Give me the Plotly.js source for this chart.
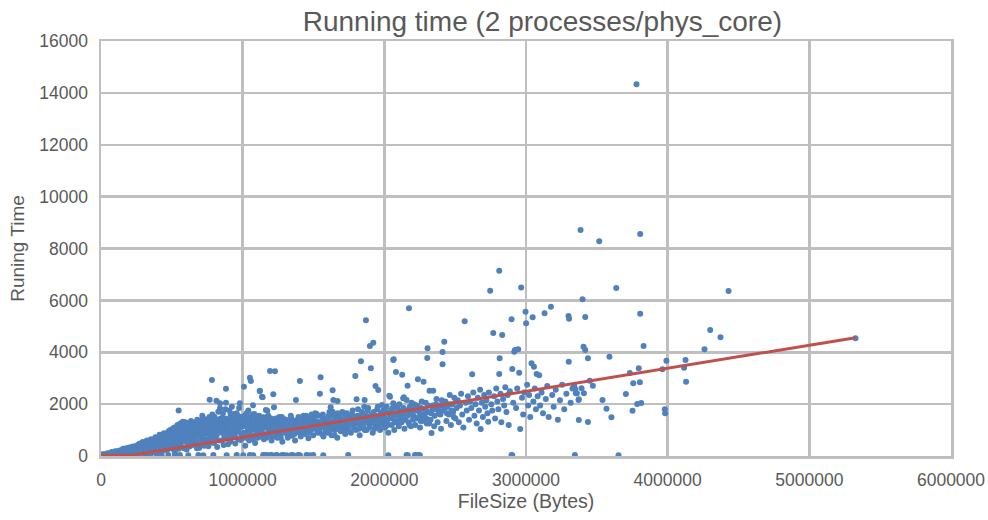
<!DOCTYPE html>
<html>
<head>
<meta charset="utf-8">
<script src="https://cdn.plot.ly/plotly-3.0.1.min.js"></script>
<style>
  html, body { margin: 0; padding: 0; background: #ffffff; }
  #chart { width: 988px; height: 520px; }
</style>
</head>
<body>
<div id="chart"></div>
<script>
// [file size in bytes, running time]
var nearOrigin = [
  [5000,10],[12000,20],[18000,15],[25000,30],[30000,25],[38000,40],[45000,35],[52000,60],[60000,45],[66000,80],
  [72000,55],[80000,70],[88000,100],[95000,60],[100000,120],[108000,90],[115000,150],[122000,75],[130000,180],[138000,110],
  [145000,200],[152000,140],[160000,230],[168000,120],[175000,260],[182000,170],[190000,300],[198000,210],[205000,150],[212000,330],
  [220000,250],[228000,190],[235000,360],[242000,280],[250000,140],[20000,60],[40000,90],[70000,120],[110000,40],[140000,60],
  [170000,80],[200000,90],[230000,100],[15000,0],[35000,5],[55000,10],[85000,20],[125000,30],
  [8000,40],[14000,5],[22000,45],[28000,10],[33000,55],[42000,15],[47000,70],[57000,30],[63000,95],[68000,20],
  [77000,110],[83000,45],[91000,130],[97000,25],[104000,160],[112000,65],[118000,180],[127000,110],[133000,215],[142000,35],
  [149000,240],[156000,90],[163000,260],[171000,180],[178000,300],[186000,60],[193000,240],[201000,330],[208000,120],[216000,290],
  [224000,370],[232000,60],[238000,220],[246000,390],[253000,300],[12000,70],[48000,110],[76000,150],[101000,180],[157000,280]
];

var bandLow = [
  [260000,420],[268000,200],[275000,330],[282000,480],[290000,260],[298000,390],[305000,150],[312000,520],[320000,300],[328000,440],
  [335000,210],[342000,580],[350000,360],[358000,250],[365000,620],[372000,470],[380000,300],[388000,700],[395000,420],[402000,180],
  [410000,560],[418000,760],[425000,350],[432000,640],[440000,230],[448000,820],[455000,500],[462000,300],[470000,900],[476000,650],
  [483000,420],[490000,1000],[497000,760],[504000,280],[510000,560],[518000,1100],[525000,880],[532000,350],[540000,1200],[546000,700],
  [548000,1750],[555000,460],[560000,1250],[566000,950],[572000,620],[578000,1320],[585000,300],[590000,1080],[596000,780],[602000,1280],
  [608000,520],[615000,1150],[622000,880],[628000,380],[635000,1350],[640000,680],[648000,1000],[655000,450],[662000,1220],[668000,820],
  [675000,560],[680000,1400],[688000,1050],[694000,320],[700000,1300],[706000,720],[712000,950],[715000,1550],[720000,1180],[726000,480],
  [732000,1420],[738000,860],[745000,620],[752000,1280],[758000,380],[765000,1500],[767000,2172],[770000,950],[777000,700],[783000,2930],
  [786000,1600],[790000,1150],[793000,1415],[798000,500],[805000,1350],[810000,1322],[815000,2133],[818000,820],[822000,1050],[828000,1708],
  [832000,600],[840000,2031],[840000,1839],[845000,1450],[848000,1200],[855000,900],[860000,1650],[866000,420],[872000,1300],[878000,1800],
  [882000,2595],[882000,2055],[888000,700],[894000,1415],[900000,1100],[906000,1750],[912000,550],[918000,1500],[924000,1900],[930000,880],
  [936000,1620],[942000,1250],[948000,480],[957000,1646],[962000,1350],[968000,1000],[975000,1850],[980000,2031],[986000,620],[992000,1480],
  [998000,1200]
];

var fillLow = [
  [257000,80],[263000,350],[271000,470],[279000,120],[286000,410],[294000,540],[301000,290],[309000,60],[316000,460],[324000,600],
  [331000,340],[338000,110],[346000,500],[353000,650],[361000,420],[368000,180],[376000,560],[384000,720],[391000,90],[399000,610],
  [406000,360],[414000,820],[421000,500],[429000,150],[436000,720],[444000,880],[451000,420],[458000,640],[466000,220],[473000,780],
  [479000,960],[487000,560],[493000,340],[500000,880],[507000,1050],[514000,690],[521000,150],[528000,980],[535000,520],[543000,1100],
  [551000,820],[268000,290],[297000,170],[333000,470],[362000,290],[397000,510],[427000,620],[456000,330],[487000,820],[519000,420],
  [537000,900],[283000,230],[318000,160],[355000,110],[392000,240],[433000,280],[468000,520],[502000,620],[526000,720],[549000,280],
  [553000,1050],[558000,850],[564000,380],[569000,1180],[575000,720],[581000,1000],[587000,560],[593000,1300],[599000,900],[605000,250],
  [611000,1220],[617000,680],[624000,1050],[630000,820],[637000,1180],[643000,420],[650000,1300],[657000,950],[664000,680],[671000,1150],
  [677000,300],[683000,1250],[690000,860],[697000,1020],[703000,560],[709000,1380],[716000,780],[723000,1250],[729000,400],[735000,1100],
  [741000,980],[748000,1400],[754000,650],[761000,1180],[768000,820],[774000,1300],[780000,520],[787000,1050],[794000,900],[801000,1500],
  [807000,720],[813000,1150],[820000,350],[826000,1400],[834000,980],[842000,1250],[850000,600],[857000,1350],[863000,1100],[870000,780],
  [876000,1450],[884000,1000],[891000,1200],[897000,450],[903000,1350],[909000,900],[915000,1600],[921000,700],[927000,1250],[933000,1050],
  [939000,1450],[945000,800],[951000,1200],[959000,950],[965000,1550],[971000,650],[977000,1300],[983000,1100],[989000,850],[995000,1400],
  [560000,620],[603000,1000],[648000,560],[694000,1150],[738000,640],[779000,1050],[824000,1180],[868000,950],[911000,1300],[954000,1050],
  [998000,700],[586000,860],[631000,1100],[676000,980],[719000,880],[763000,1100],[808000,940],[852000,1100],[893000,800],[937000,900],
  [982000,1500]
];

var bandMid = [
  [1005000,850],[1009000,2672],[1012000,1550],[1018000,400],[1024000,1300],[1028000,1646],[1035000,950],[1040000,1750],[1046000,600],[1051000,3019],
  [1055000,1100],[1058000,2891],[1062000,1400],[1068000,780],[1073000,1954],[1078000,1200],[1082000,1619],[1088000,500],[1094000,1000],[1100000,1500],
  [1106000,700],[1112000,1250],[1120000,2506],[1122000,2518],[1126000,900],[1132000,1380],[1136000,2287],[1141000,2263],[1145000,1492],[1150000,650],
  [1158000,1150],[1164000,1773],[1166000,1492],[1169000,1260],[1174000,1746],[1178000,850],[1181000,1554],[1186000,1050],[1193000,3277],[1198000,1400],
  [1204000,600],[1210000,1200],[1216000,2378],[1221000,1877],[1228000,3264],[1232000,950],[1238000,1350],[1245000,700],[1252000,1150],[1258000,1500],
  [1265000,820],[1272000,1280],[1280000,550],[1288000,1050],[1295000,1420],[1302000,900],[1310000,1200],[1318000,700],[1325000,1350],[1334000,1000],
  [1340000,1550],[1348000,780],[1355000,1250],[1362000,1100],[1370000,600],[1376000,2159],[1382000,1380],[1390000,950],[1398000,1200],[1404000,2891],
  [1410000,750],[1418000,1450],[1425000,1050],[1432000,1300],[1440000,850],[1448000,1550],[1456000,1150],[1464000,680],[1470000,1350],[1475000,1388],
  [1482000,1000],[1490000,1480],[1498000,800],[1505000,1250],[1512000,1650],[1517000,1581],[1522000,1619],[1530000,900],[1538000,1300],[1545000,2403],
  [1550000,3034],[1556000,1100],[1562000,1500],[1570000,750],[1578000,1400],[1585000,1050],[1592000,1250],[1600000,900],[1608000,1550],[1615000,1200],
  [1621000,1877],[1628000,800],[1635000,1708],[1635000,2533],[1640000,2159],[1646000,1350],[1652000,1000],[1660000,1480],[1668000,700],[1670000,2120],
  [1676000,1250],[1684000,1550],[1692000,950],[1700000,1400],[1708000,1150],[1716000,1650],[1724000,850],[1732000,1300],[1740000,1050],[1748000,1500],
  [1756000,1250],[1764000,900],[1772000,1600],[1780000,1200],[1788000,1400],[1795000,3084],[1800000,1000],[1804000,2186],[1810000,1550],[1818000,1300],
  [1826000,800],[1835000,3650],[1842000,1700],[1850000,1150],[1858000,1900],[1861000,2159],[1866000,1400],[1870000,5231],[1875000,1000],[1882000,1750],
  [1890000,1250],[1898000,4240],[1905000,3380],[1910000,1600],[1918000,900],[1922000,4369],[1928000,1450],[1938000,2698],[1944000,1150],[1950000,1800],
  [1957000,2544],[1962000,1350],[1970000,1000],[1976000,1650],[1983000,1966],[1990000,1250],[1996000,1500]
];

var fillMid = [
  [1003000,1150],[1010000,900],[1016000,1400],[1022000,700],[1030000,1250],[1037000,1050],[1043000,1500],[1049000,850],[1057000,1300],[1064000,1000],
  [1071000,1600],[1076000,650],[1084000,1150],[1091000,1400],[1097000,850],[1103000,1250],[1109000,1050],[1116000,1550],[1123000,750],[1129000,1200],
  [1135000,1000],[1142000,1400],[1148000,850],[1155000,1300],[1161000,1100],[1167000,700],[1176000,1350],[1183000,950],[1190000,1200],[1196000,800],
  [1202000,1450],[1208000,1000],[1214000,1250],[1219000,750],[1226000,1150],[1235000,1450],[1242000,1000],[1249000,850],[1255000,1300],[1262000,1100],
  [1269000,700],[1276000,1500],[1283000,900],[1291000,1200],[1298000,1050],[1306000,1400],[1314000,850],[1321000,1150],[1329000,1300],[1337000,900],
  [1344000,1450],[1352000,1000],[1359000,1350],[1366000,850],[1374000,1200],[1386000,1050],[1394000,1500],[1402000,900],[1414000,1250],[1421000,1100],
  [1429000,1550],[1436000,950],[1444000,1300],[1452000,1050],[1460000,1400],[1467000,900],[1478000,1200],[1486000,1600],[1494000,1100],[1500000,1350],
  [1508000,1050],[1515000,1350],[1526000,1150],[1534000,1550],[1541000,1000],[1552000,1300],[1559000,850],[1566000,1600],[1574000,1150],[1581000,1300],
  [1589000,950],[1596000,1450],[1604000,1150],[1612000,1700],[1619000,1000],[1625000,1350],[1632000,1150],[1643000,1550],[1649000,800],[1656000,1250],
  [1664000,1150],[1672000,1650],[1680000,1050],[1688000,1350],[1696000,1200],[1704000,1700],[1712000,950],[1720000,1450],[1728000,1150],[1736000,1650],
  [1744000,1300],[1752000,950],[1760000,1500],[1768000,1200],[1776000,1750],[1784000,1100],[1792000,1500],[1806000,1250],[1814000,1800],[1822000,1050],
  [1830000,1500],[1838000,1250],[1846000,1650],[1854000,1350],[1862000,1000],[1872000,1550],[1879000,1300],[1886000,1850],[1894000,1100],[1902000,1450],
  [1914000,1250],[1925000,1700],[1932000,1050],[1940000,1550],[1947000,1350],[1954000,1900],[1966000,1150],[1973000,1500],[1980000,1350],[1993000,1750],
  [2008000,1450],[2016000,1900],[2024000,1200],[2032000,1650],[2048000,1750],[2055000,1450],[2073000,1300],[2080000,1850],[2091000,1550],[2099000,1250],
  [2106000,2000],[2114000,1600],[2122000,1300],[2136000,1850],[2146000,1400],[2154000,1750],[2167000,1550],[2177000,1200],[2184000,1700],[2192000,2050],
  [2206000,1550],[2214000,1800],[2222000,1450],[2233000,1950],[2248000,1700],[2256000,1350],[2264000,2100],[2273000,1550],[2288000,1750],[2296000,1450],
  [2308000,1950],[2316000,1250],[2330000,1650],[2342000,1800],[2356000,1550],[2364000,2000],[2380000,1800],[2396000,1600],[2405000,2150],[2426000,1850],
  [2442000,1650],[2458000,2000],[2474000,1750],[2490000,1500],[2506000,2100]
];

var bandHigh = [
  [2005000,1100],[2012000,1700],[2020000,1350],[2028000,900],[2035000,2325],[2040000,2287],[2045000,1500],[2052000,1200],[2058000,1850],[2063000,3700],
  [2063000,2031],[2066000,3728],[2070000,1000],[2076000,1600],[2082000,3238],[2088000,1350],[2095000,1950],[2102000,1150],[2110000,1750],[2118000,1450],
  [2126000,3134],[2133000,2224],[2138000,2263],[2142000,1050],[2150000,1600],[2157000,2159],[2164000,2710],[2170000,1300],[2174000,5693],[2180000,1900],
  [2188000,1150],[2195000,1650],[2202000,1400],[2210000,2000],[2218000,1200],[2226000,1750],[2237000,2957],[2244000,1500],[2252000,1100],[2260000,1850],
  [2268000,1350],[2277000,2864],[2284000,1600],[2292000,2050],[2300000,1250],[2303000,3778],[2305000,4151],[2312000,1700],[2319000,2517],[2326000,1400],
  [2333000,890],[2338000,1950],[2345000,2517],[2352000,1150],[2360000,1800],[2368000,2200],[2376000,1300],[2384000,1650],[2392000,1950],[2400000,1050],
  [2411000,4009],[2411000,3535],[2418000,1750],[2423000,4407],[2430000,2100],[2438000,1350],[2446000,1900],[2455000,1600],[2462000,2350],[2470000,1200],
  [2478000,2000],[2486000,1700],[2494000,2250],[2502000,1450],[2510000,1850],[2518000,2150],[2526000,1300],[2534000,1950],[2542000,2400],[2550000,1600],
  [2558000,1100],[2567000,5192],[2575000,2050],[2582000,1750],[2590000,2300],[2598000,1400],[2606000,2100],[2614000,1850],[2620000,3150],[2628000,2450],
  [2636000,1550],[2644000,2000],[2652000,1250],[2660000,2250],[2668000,1750],[2676000,2550],[2680000,1041],[2688000,2050],[2696000,1500],[2705000,2350],
  [2712000,1900],[2720000,2150],[2728000,1650],[2733000,1322],[2738000,2450],[2747000,6372],[2755000,2000],[2762000,1750],[2769000,4742],[2775000,2300],
  [2782000,1450],[2790000,2600],[2798000,2100],[2805000,1800],[2811000,7143],[2811000,3161],[2814000,3766],[2820000,2400],[2826000,1300],[2832000,4665],
  [2838000,2200],[2846000,1950],[2854000,2650],[2862000,1700],[2870000,2350],[2878000,1200],[2886000,2500],[2898000,5270],[2903000,3354],[2910000,2050],
  [2917000,4020],[2922000,4086],[2930000,1850],[2938000,2600],[2945000,4112],[2952000,3211],[2959000,1041],[2966000,6500],[2972000,2250],[2980000,1600],
  [2988000,2450],[2997000,5564],[3001000,5115],[3008000,2750],[3015000,1950],[3022000,2350],[3030000,1500],[3039000,3573],[3047000,5347],[3052000,2100],
  [3056000,3443],[3062000,2600],[3070000,1800],[3075000,3161],[3082000,2300],[3093000,3110],[3100000,1950],[3110000,2450],[3120000,1650],[3131000,5500],
  [3140000,2200],[3150000,2700],[3160000,1500],[3176000,5757],[3185000,2350],[3195000,1900],[3210000,2550],[3225000,1400],[3240000,2150],[3255000,2750],
  [3270000,1800],[3285000,2400],[3300000,5397],[3302000,3637],[3304000,5293],[3315000,2050],[3328000,2600],[3340000,2710],[3347000,2583],[3352000,2417]
];

var bandTail = [
  [3359000,2417],[3371000,2159],[3373000,1388],[3373000,2186],[3385000,8712],[3392000,2610],[3399000,6040],[3406000,4214],[3409000,2417],[3418000,4086],
  [3418000,5359],[3437000,3766],[3437000,1311],[3450000,2900],[3472000,2710],[3517000,8277],[3540000,2159],[3568000,1824],[3589000,3829],[3603000,1492],
  [3637000,6476],[3705000,2390],[3733000,3200],[3752000,1748],[3757000,2803],[3780000,14329],[3785000,2005],[3796000,3380],[3804000,2841],[3806000,8558],
  [3806000,5487],[3813000,2043],[3830000,4240],[3963000,3342],[3980000,1800],[3982000,1646],[3991000,3676],[4116000,3404],[4126000,3700],[4130000,2864],
  [4260000,4112],[4300000,4857],[4373000,4575],[4430000,6361],[5326000,4537]
];

var zeroRow = [
  [16000,20],[64000,30],[205000,40],[346000,30],[404000,40],[428000,30],[475000,40],[522000,30],[557000,40],[616000,30],
  [687000,40],[722000,30],[793000,40],[887000,30],[958000,40],[1004000,30],[1051000,40],[1075000,30],[1145000,40],[1150000,30],
  [1169000,40],[1193000,30],[1204000,40],[1235000,30],[1240000,40],[1275000,30],[1286000,40],[1310000,30],[1345000,40],[1357000,30],
  [1392000,40],[1404000,30],[1451000,40],[1475000,30],[1498000,40],[1569000,30],[1745000,40],[2028000,30],[2157000,40],[2166000,30],
  [2216000,40],[2228000,30],[2244000,40],[2251000,30],[2898000,40],[2903000,30],[3345000,40],[3653000,30]
];

// red fitted line
var fitSize = [0, 220000, 5326000];
var fitTime = [30, 30, 4560];

var allPoints = nearOrigin.concat(bandLow, fillLow, bandMid, fillMid, bandHigh, bandTail, zeroRow);

var gray = "#595959";
var grid = "#bfbfbf";
var font = "Liberation Sans, Arial, sans-serif";

Plotly.newPlot("chart", [
  {
    x: allPoints.map(function (p) { return p[0]; }),
    y: allPoints.map(function (p) { return p[1]; }),
    type: "scatter",
    mode: "markers",
    marker: { size: 6, color: "#4f81bd", line: { width: 0 } },
    hoverinfo: "x+y"
  },
  {
    x: fitSize,
    y: fitTime,
    type: "scatter",
    mode: "lines",
    line: { color: "#c0504d", width: 3 },
    hoverinfo: "skip"
  }
], {
  width: 988,
  height: 520,
  showlegend: false,
  paper_bgcolor: "#ffffff",
  plot_bgcolor: "#ffffff",
  font: { family: font, color: gray, size: 17.5 },
  margin: { l: 101, r: 37, t: 41, b: 64 },
  title: {
    text: "Running time (2 processes/phys_core)",
    font: { size: 28, color: gray, family: font },
    x: 0.549, xref: "container", xanchor: "center",
    y: 0.96, yref: "container", yanchor: "middle"
  },
  xaxis: {
    range: [0, 6000000],
    dtick: 1000000,
    tickformat: "d",
    showgrid: true,
    gridcolor: grid,
    gridwidth: 2.5,
    zeroline: false,
    showline: true,
    linecolor: grid,
    linewidth: 2.5,
    mirror: true,
    ticks: "",
    ticklabelstandoff: 6,
    tickfont: { size: 17.5, color: gray },
    title: { text: "FileSize (Bytes)", font: { size: 19.5, color: gray }, standoff: 6 }
  },
  yaxis: {
    range: [0, 16000],
    dtick: 2000,
    tickformat: "d",
    showgrid: true,
    gridcolor: grid,
    gridwidth: 2.5,
    zeroline: false,
    showline: true,
    linecolor: grid,
    linewidth: 2.5,
    mirror: true,
    ticks: "",
    ticklabelstandoff: 7,
    tickfont: { size: 17.5, color: gray },
    title: { text: "Runing Time", font: { size: 19, color: gray }, standoff: 10 }
  }
}, { displayModeBar: false, staticPlot: true });
</script>
</body>
</html>
